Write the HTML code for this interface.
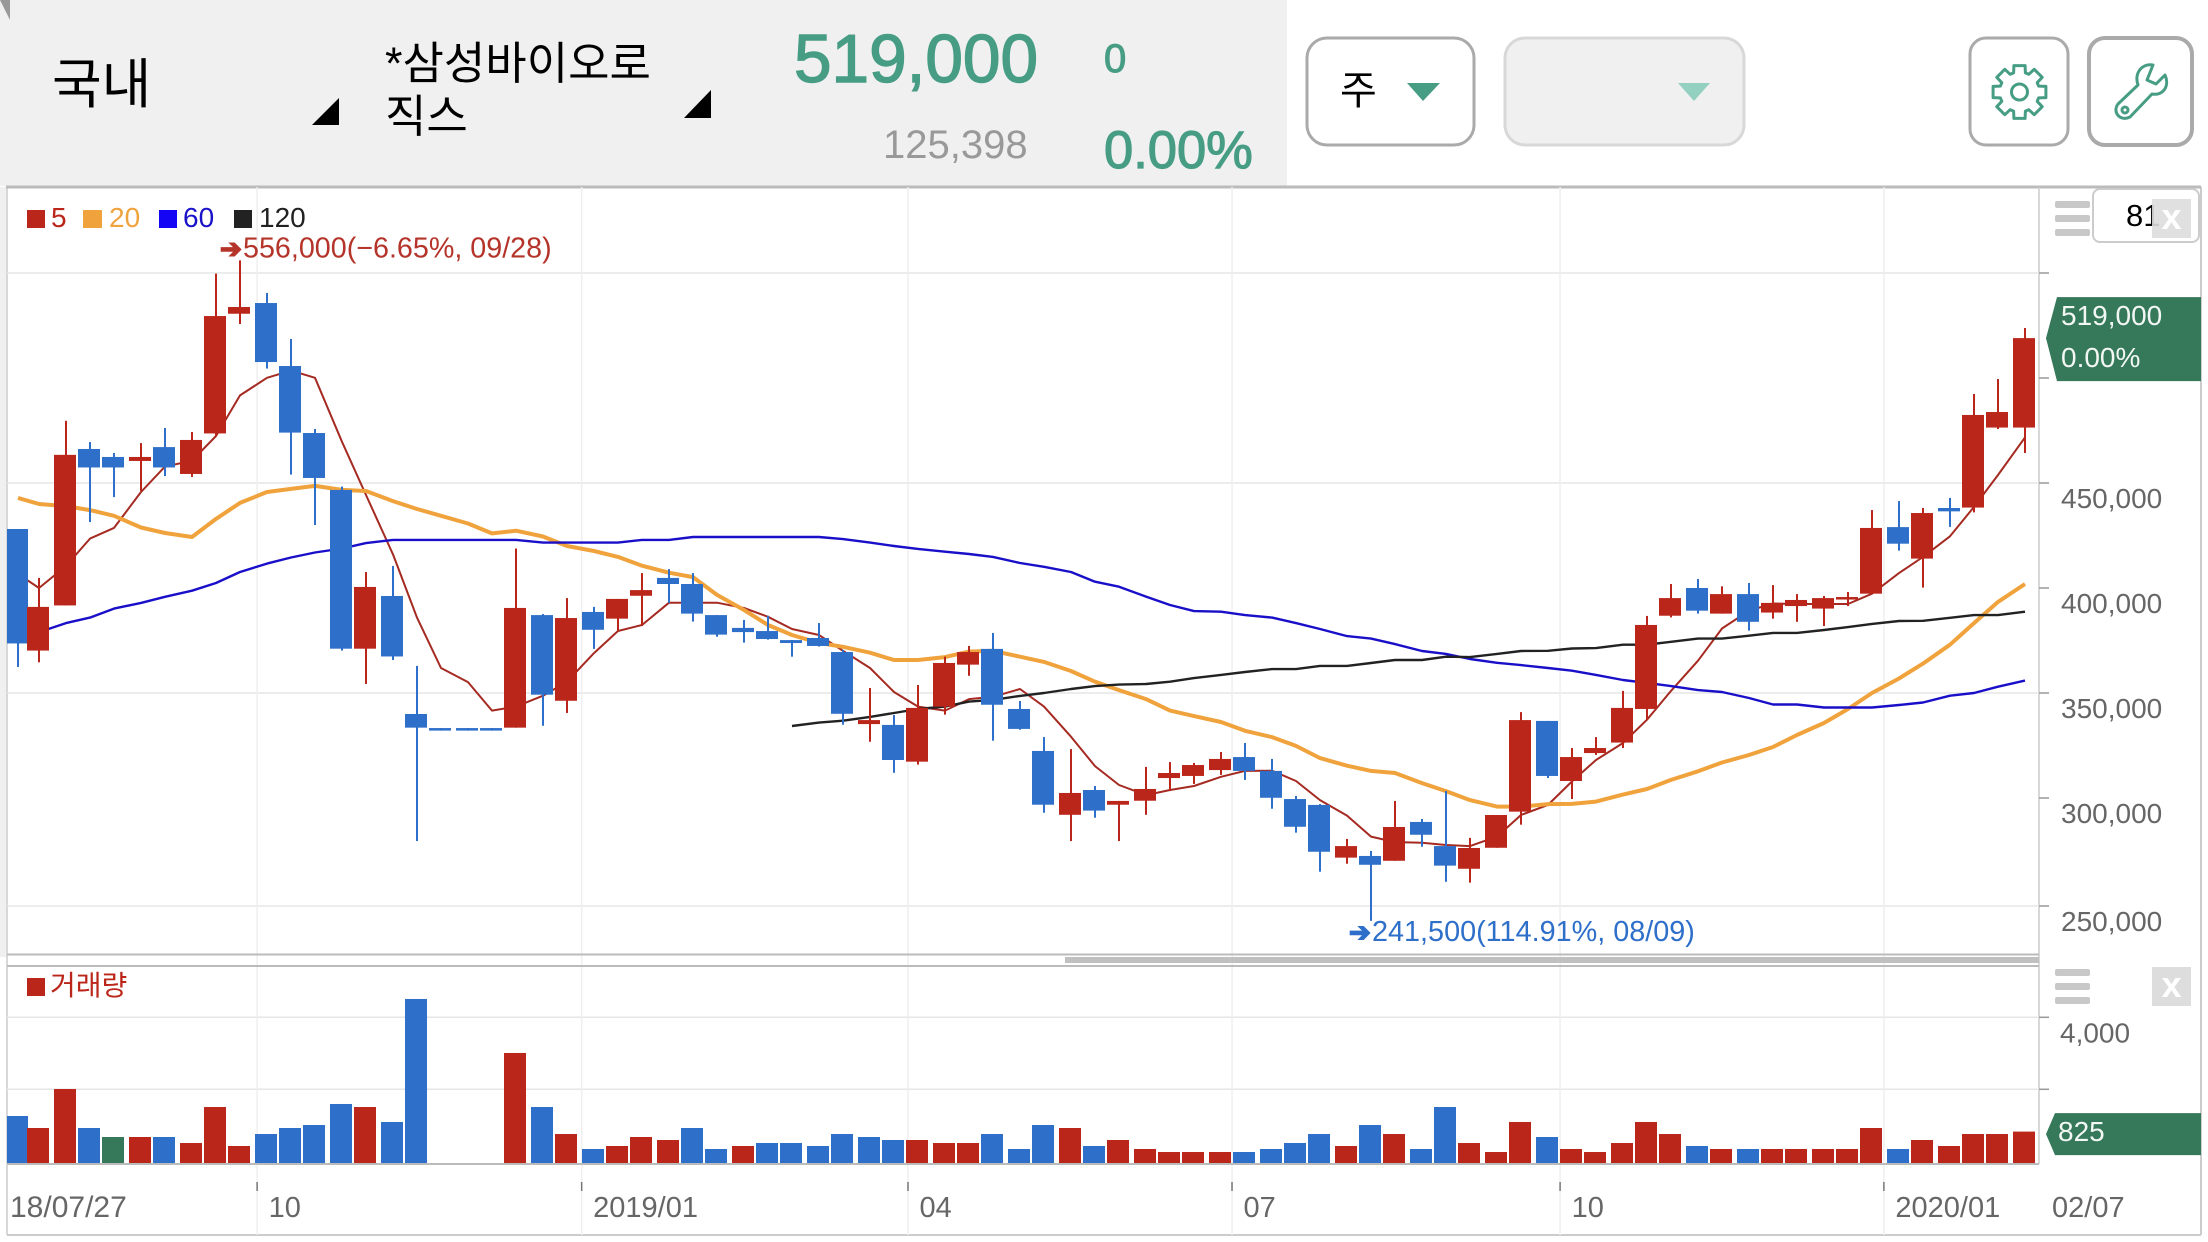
<!DOCTYPE html>
<html lang="ko">
<head>
<meta charset="utf-8">
<title>삼성바이오로직스 주봉 차트</title>
<style>
html,body{margin:0;padding:0;background:#fff;width:2208px;height:1242px;overflow:hidden}
svg{display:block;font-family:"Liberation Sans","Noto Sans CJK KR",sans-serif}
</style>
</head>
<body>
<svg id="stage" xmlns="http://www.w3.org/2000/svg" width="2208" height="1242" viewBox="0 0 2208 1242">
  <rect width="2208" height="1242" fill="#fff"/>
  <g>
    <rect x="0" y="0" width="1287" height="186" fill="#f0f0f0"/>
    <polygon points="0,0 10,0 10,20" fill="#999"/>
    <text x="52" y="103" font-size="54" fill="#000">국내</text>
    <polygon points="339,98 339,125 312,125" fill="#000"/>
    <text x="385" y="79" font-size="45" fill="#000">*삼성바이오로</text>
    <text x="385" y="132" font-size="45" fill="#000">직스</text>
    <polygon points="711,90 711,118 684,118" fill="#000"/>
    <text x="794" y="82" font-size="67.5" fill="#479d84" stroke="#479d84" stroke-width="1.4">519,000</text>
    <text x="883" y="158" font-size="40" fill="#999">125,398</text>
    <text x="1104" y="72" font-size="40" fill="#479d84" stroke="#479d84" stroke-width="1">0</text>
    <text x="1104" y="168" font-size="52.5" fill="#479d84" stroke="#479d84" stroke-width="1.2">0.00%</text>
  </g>
  <g>
    <g>
      <rect x="1307" y="38" width="167" height="107" rx="20" fill="#fff" stroke="#aaa" stroke-width="3"/>
      <text x="1340" y="104" font-size="40" fill="#000">주</text>
      <polygon points="1407,83 1440,83 1423,101" fill="#479d84"/>
    </g>
    <g>
      <rect x="1505" y="38" width="239" height="107" rx="20" fill="#f0f0f0" stroke="#d8d8d8" stroke-width="3"/>
      <polygon points="1678,83 1710,83 1694,101" fill="#93d0c0"/>
    </g>
    <g>
      <rect x="1970" y="38" width="98" height="107" rx="16" fill="#fff" stroke="#aaa" stroke-width="3"/>
      <path id="gear" fill="none" stroke="#479d84" stroke-width="3" stroke-linejoin="round" d=""/>
      <circle cx="2019.5" cy="92" r="8" fill="none" stroke="#479d84" stroke-width="3"/>
    </g>
    <g>
      <rect x="2089" y="38" width="103" height="107" rx="16" fill="#fff" stroke="#aaa" stroke-width="4"/>
      <path fill="none" stroke="#479d84" stroke-width="3" stroke-linejoin="round" d="M2153 65 C2142 63 2134 73 2138 85 L2118 104 C2112 112 2120 122 2130 117 L2152 94 C2163 96 2170 86 2165 75 L2156 84 L2147 80 Z"/>
      <circle cx="2125" cy="110" r="3" fill="none" stroke="#479d84" stroke-width="3"/>
    </g>
  </g>

  <g id="chartFrame">
    <rect x="0" y="187" width="6" height="770" fill="#f0f0f0"/>
    <line x1="7" y1="187" x2="7" y2="1235" stroke="#ccc" stroke-width="1.5"/>
    <line x1="2201" y1="187" x2="2201" y2="1235" stroke="#ccc" stroke-width="2"/>
    <line x1="6" y1="187" x2="2201" y2="187" stroke="#bbb" stroke-width="3"/>
    <line x1="7" y1="1235" x2="2201" y2="1235" stroke="#ccc" stroke-width="2"/>
    <line x1="2039" y1="187" x2="2039" y2="1164" stroke="#ccc" stroke-width="1.5"/>
  </g>
  <defs>
    <clipPath id="plotClip"><rect x="7" y="187" width="2032" height="980"/></clipPath>
  </defs>
  <g id="grid"></g>
  <g id="marks" clip-path="url(#plotClip)"></g>
  <g id="axes"></g>

  <g>
    <line x1="7" y1="954.5" x2="2039" y2="954.5" stroke="#bbb" stroke-width="2"/>
    <line x1="7" y1="966" x2="2039" y2="966" stroke="#bbb" stroke-width="2"/>
    <rect x="1065" y="957" width="974" height="6" fill="#c0c0c0"/>
    <line x1="7" y1="1164" x2="2039" y2="1164" stroke="#bbb" stroke-width="2"/>
  </g>

  <g font-size="28">
    <g><rect x="27" y="210" width="18" height="18" fill="#bb261a"/><text x="51" y="227" fill="#bb261a">5</text></g>
    <g><rect x="83" y="210" width="19" height="18" fill="#f0a33c"/><text x="109" y="227" fill="#f0a33c">20</text></g>
    <g><rect x="159" y="210" width="18" height="18" fill="#1505f5"/><text x="183" y="227" fill="#1a12c8">60</text></g>
    <g><rect x="234" y="210" width="18" height="18" fill="#222"/><text x="259" y="227" fill="#222">120</text></g>
  </g>
  <g>
    <rect x="27" y="978" width="18" height="18" fill="#bb261a"/>
    <text x="50" y="995" font-size="28" fill="#bb261a">거래량</text>
  </g>

  <g>
    <g fill="#c8c8c8">
      <rect x="2055" y="201" width="35" height="7" rx="2"/>
      <rect x="2055" y="215" width="35" height="7" rx="2"/>
      <rect x="2055" y="229" width="35" height="7" rx="2"/>
    </g>
    <rect x="2093" y="189" width="106" height="53" rx="7" fill="#fff" stroke="#ccc" stroke-width="2"/>
    <text x="2126" y="226" font-size="31" fill="#000">81</text>
    <rect x="2152" y="199" width="39" height="39" fill="#ddd" fill-opacity=".9"/>
    <text x="2171.5" y="229" font-size="36" font-weight="700" fill="#fff" text-anchor="middle">x</text>
  </g>
  <g>
    <g fill="#c8c8c8">
      <rect x="2055" y="969" width="35" height="7" rx="2"/>
      <rect x="2055" y="983" width="35" height="7" rx="2"/>
      <rect x="2055" y="997" width="35" height="7" rx="2"/>
    </g>
    <rect x="2152" y="967" width="39" height="39" fill="#ddd"/>
    <text x="2171.5" y="997" font-size="36" font-weight="700" fill="#fff" text-anchor="middle">x</text>
  </g>
</svg>

<script>
const opens=[428100,370200,391700,466200,462400,460500,467100,454300,473600,530600,535700,505700,473800,446700,371100,396200,340000,333300,333300,333300,333500,387100,346300,388600,385400,396300,404800,401900,387100,381000,379500,375200,376200,369500,335200,334800,317300,343500,363500,371000,342400,322400,292000,303800,296800,298700,309500,310500,313300,319500,312900,299500,296700,271600,272400,270100,288600,277100,266300,276300,293500,336700,308100,321400,326400,342400,386800,400000,387800,397100,388300,391400,390200,394500,397300,429000,414000,438100,438300,476400,476400];
const highs=[428100,404800,479600,469500,464300,469000,476200,474300,549700,556000,540500,518600,475700,448300,407600,410500,362900,333300,333300,333300,418800,387600,395200,391000,394800,407100,409000,407100,387100,384800,386800,375200,383300,370500,352400,339500,353800,367300,372400,378600,346200,329000,323300,305700,298600,314800,317100,316700,321900,326200,318600,301000,297100,280500,274800,298600,290000,303300,281000,291900,340900,336700,323800,329000,351000,386700,401900,404300,400800,402400,401400,397100,396200,398100,437100,441400,438100,442900,492400,499500,523800];
const lows=[362400,364600,391700,431400,443300,446200,453300,452900,472400,525700,504500,454000,430000,370200,354300,365700,279500,332100,332100,332100,333500,334400,340500,371000,379700,381900,392900,384000,376800,374000,375400,367300,372100,334900,326800,312000,315900,339700,358200,327300,332500,293000,279500,290600,279500,292000,303300,306700,311000,308600,294900,283500,264900,268700,241500,270100,276800,260100,259700,276300,287300,309500,299500,320500,323800,337300,386000,387800,387800,379700,385400,383900,381900,391400,397300,417800,400200,429100,436000,475700,464300];
const closes=[373600,391000,463400,457400,457400,462400,457400,470500,529500,533800,507600,474000,452400,371100,400500,367400,333500,332100,332100,332100,390500,349200,385700,380100,394800,399000,401900,387800,377800,379000,375700,373800,372400,340100,337100,318100,342900,364300,369500,344400,332900,296800,302400,294000,298600,304300,311900,315700,318600,312900,300100,286300,274400,277100,268200,286200,282500,267800,276200,291900,337100,310500,319500,323800,342900,382400,395200,389200,397100,383900,392900,394300,395200,395700,428600,421100,435700,436500,482400,483800,519000];
const ma5=[406700,400000,410500,423500,428600,445700,457800,460600,472400,491700,500100,503500,500100,469600,444300,416000,385900,361900,355200,341600,343500,348700,355400,369000,379500,382400,393000,393000,393000,390500,386300,380500,377600,370100,361900,350500,343500,341600,347100,348200,351900,343500,329200,315200,306200,301400,303800,305700,310100,312900,313000,308100,299000,291600,281600,279000,278700,277600,277100,281600,291900,296700,307900,318100,326200,337300,351000,365400,380700,389200,392600,392400,392400,392400,397300,407100,414800,424600,438600,453800,471700];
const ma20=[442900,440000,439000,437100,434400,428800,426200,424300,432900,440500,445700,447200,448600,446700,446200,441400,437600,434400,430700,426000,427300,424500,420000,417600,414800,410600,407300,405200,396700,389500,382400,377600,373800,372000,369200,365700,365700,367100,369700,370100,367300,364800,360500,355400,351400,347100,341600,339000,336200,332000,329000,324800,319000,315400,312900,311900,307100,303300,299000,295900,295900,297100,297200,298300,301600,304300,308600,312700,316900,320500,324300,330000,335700,342400,350000,356900,364000,373000,383300,393400,401900];
const ma60=[377100,379000,383300,385900,390200,392900,395800,398700,402400,407600,411600,414500,416900,418800,421400,422900,422900,422900,422900,422900,422900,421600,421600,421600,421600,422900,422900,424300,424300,424300,424300,424300,424300,423300,421600,420000,418600,417300,416200,414800,411900,410100,407600,403000,400600,395900,391900,389000,388700,387100,385900,383300,380500,377100,375900,373300,370000,368600,366200,364400,363300,361900,360600,358600,356200,354800,353300,351400,350500,347600,344500,344500,343100,343100,343100,344300,345500,348700,350000,353000,355900];
const ma120=[null,null,null,null,null,null,null,null,null,null,null,null,null,null,null,null,null,null,null,null,null,null,null,null,null,null,null,null,null,null,null,334300,335900,336800,338600,340500,342400,343500,345900,346700,348600,350000,351900,353300,354000,354300,355400,357100,358600,360000,361400,361400,362900,362900,364300,365700,365700,367300,367100,368600,370000,370100,371200,371400,373000,373000,374400,375900,375900,377300,378600,378600,380000,381400,382900,384300,384400,385800,387100,387100,388700];
const volumes=[1258,925,2008,925,675,675,675,508,1508,425,758,925,1008,1592,1508,1092,4509,0,0,0,3009,1508,758,342,425,675,592,925,342,425,508,508,425,758,675,592,592,508,508,758,342,1008,925,425,592,342,258,258,258,258,342,508,758,425,1008,758,342,1508,508,258,1092,675,342,258,508,1092,758,425,342,342,342,342,342,342,925,342,592,425,758,758,825];
const volumeDirections=[-1,1,1,-1,0,1,-1,1,1,1,-1,-1,-1,-1,1,-1,-1,0,0,0,1,-1,1,-1,1,1,1,-1,-1,1,-1,-1,-1,-1,-1,-1,1,1,1,-1,-1,-1,1,-1,1,1,1,1,1,-1,-1,-1,-1,1,-1,1,-1,-1,1,1,1,-1,1,1,1,1,1,-1,1,-1,1,1,1,1,1,-1,1,1,1,1,1];
const priceTicks=[550000,500000,450000,400000,350000,300000,250000];
const priceGridTicks=[550000,450000,350000,250000];
const priceLabels=[450000,400000,350000,300000,250000];
const volumeTicks=[4000,2000];
const volumeLabels=[4000];
const monthIndexes=[10.12,23.04,36.03,48.93,61.99,74.88];
const monthLabels=["10","2019/01","04","07","10","2020/01"];
const firstDateLabel="18/07/27";
const lastDateLabel="02/07";
const extremeDates=["09/28","08/09"];
const changePercentLabel="0.00%";

const NS="http://www.w3.org/2000/svg";
const gridLayer=document.getElementById("grid");
const marksLayer=document.getElementById("marks");
const axesLayer=document.getElementById("axes");
const RED="#bb261a",BLUE="#2e6fc9",GREEN="#35785a";

function priceY(p){return 483+(450000-p)*0.0021;}
function gridY(p){return priceY(p)+(p<=250000?3:0);}
function volumeY(v){return 1161.3-v*0.036;}
function barLeft(i){return Math.max(6,3*Math.floor(1.515+8.37*i));}
function barCenter(i){return barLeft(i)+11;}
function monthX(m){return 2.9+25.12*m;}
function fmt(n){return String(n).replace(/\B(?=(\d{3})+$)/g,",");}
function mk(tag,attrs,parent){
  const el=document.createElementNS(NS,tag);
  for(const k in attrs){el.setAttribute(k,attrs[k]);}
  parent.appendChild(el);
  return el;
}

/* gear icon outline */
(function(){
  const cx=2019.5,cy=92,ro=27,ri=20,n=8;let d="";
  for(let t=0;t<n;t++){
    const a=t*2*Math.PI/n-Math.PI/2,w=0.21,g=0.3;
    const pts=[[ri,a-g],[ro,a-w],[ro,a+w],[ri,a+g]];
    pts.forEach(function(p,j){
      d+=(t===0&&j===0?"M":"L")+(cx+p[0]*Math.cos(p[1])).toFixed(1)+" "+(cy+p[0]*Math.sin(p[1])).toFixed(1)+" ";
    });
  }
  document.getElementById("gear").setAttribute("d",d+"Z");
})();

/* grid lines */
priceGridTicks.forEach(function(t){
  const el=mk("line",{x1:7,x2:2039,y1:gridY(t),y2:gridY(t),stroke:"#e6e6e6","stroke-width":1.5},gridLayer);
  
  
});
volumeTicks.forEach(function(t){
  const el=mk("line",{x1:7,x2:2039,y1:volumeY(t),y2:volumeY(t),stroke:"#e6e6e6","stroke-width":1.5},gridLayer);
  
  
});
monthIndexes.forEach(function(m){
  const x=monthX(m);
  const el=mk("line",{x1:x,x2:x,y1:187,y2:1235,stroke:"#efefef","stroke-width":1.5},gridLayer);
  
  
});

/* moving averages, drawn beneath the candles */
function drawLine(values,color,width,name){
  let d="";
  values.forEach(function(v,i){
    if(v===null){return;}
    d+=(d?"L":"M")+(barCenter(i)+1)+" "+priceY(v).toFixed(1)+" ";
  });
  const el=mk("path",{d:d,fill:"none",stroke:color,"stroke-width":width,"stroke-linejoin":"round"},marksLayer);
  
  
}
drawLine(ma5,"#a52a22",2,"ma5-line");
drawLine(ma20,"#f0a33c",4,"ma20-line");
drawLine(ma60,"#1a0fc8",2.4,"ma60-line");
drawLine(ma120,"#222222",2.4,"ma120-line");

/* candles */
opens.forEach(function(o,i){
  const c=closes[i];
  const color=c>=o?RED:BLUE;
  const top=priceY(Math.max(o,c));
  const bottom=priceY(Math.min(o,c));
  const wick=mk("rect",{x:barCenter(i),y:priceY(highs[i]),width:2,height:priceY(lows[i])-priceY(highs[i]),fill:color},marksLayer);
  
  
  const body=mk("rect",{x:barLeft(i),y:top,width:22,height:Math.max(bottom-top,2),fill:color},marksLayer);
  
  
});

/* volume bars */
volumes.forEach(function(v,i){
  if(v<=0){return;}
  const dir=volumeDirections[i];
  const y=volumeY(v);
  const bar=mk("rect",{x:barLeft(i),y:y,width:22,height:1164-y,fill:dir>0?RED:(dir<0?BLUE:GREEN)},marksLayer);
  
  
});

/* price axis */
priceTicks.forEach(function(t){
  const el=mk("line",{x1:2039,x2:2049,y1:gridY(t),y2:gridY(t),stroke:"#999","stroke-width":1.5},axesLayer);
  
  
});
priceLabels.forEach(function(t){
  const el=mk("text",{x:2061,y:gridY(t)+25,"font-size":28,fill:"#666"},axesLayer);
  el.textContent=fmt(t);
  
  
});

/* volume axis */
volumeTicks.forEach(function(t){
  const el=mk("line",{x1:2039,x2:2049,y1:volumeY(t),y2:volumeY(t),stroke:"#999","stroke-width":1.5},axesLayer);
  
  
});
volumeLabels.forEach(function(t){
  const el=mk("text",{x:2060,y:volumeY(t)+25,"font-size":28,fill:"#666"},axesLayer);
  el.textContent=fmt(t);
  
  
});

/* time axis */
monthIndexes.forEach(function(m,k){
  const x=monthX(m);
  const tick=mk("line",{x1:x,x2:x,y1:1182,y2:1191,stroke:"#777","stroke-width":1.5},axesLayer);
  
  
  const label=mk("text",{x:x+11.5,y:1217,"font-size":29,fill:"#666"},axesLayer);
  label.textContent=monthLabels[k];
  
  
});
const firstDate=mk("text",{x:10,y:1217,"font-size":30,fill:"#666"},axesLayer);
firstDate.textContent=firstDateLabel;


const lastDate=mk("text",{x:2052,y:1217,"font-size":29,fill:"#666"},axesLayer);
lastDate.textContent=lastDateLabel;



/* high / low annotations */
const lastClose=closes[closes.length-1];
const maxHigh=Math.max.apply(null,highs);
const minLow=Math.min.apply(null,lows);
const maxIndex=highs.indexOf(maxHigh);
const minIndex=lows.indexOf(minLow);
function pct(base){
  const v=(lastClose-base)/base*100;
  return (v<0?"\u2212":"")+Math.abs(v).toFixed(2)+"%";
}
const hiArrow=mk("text",{x:barCenter(maxIndex)-19,y:priceY(maxHigh)-3,"font-size":26,fill:"#b5342a",stroke:"#b5342a","stroke-width":1.6,"font-family":"DejaVu Sans, sans-serif"},axesLayer);
hiArrow.textContent="\u2794";


const hiText=mk("text",{x:barCenter(maxIndex)+4,y:priceY(maxHigh)-3,"font-size":28.7,fill:"#b5342a"},axesLayer);
hiText.textContent=fmt(maxHigh)+"("+pct(maxHigh)+", "+extremeDates[0]+")";


const loArrow=mk("text",{x:barCenter(minIndex)-21,y:priceY(minLow)+20,"font-size":26,fill:"#2e6fc9",stroke:"#2e6fc9","stroke-width":1.6,"font-family":"DejaVu Sans, sans-serif"},axesLayer);
loArrow.textContent="\u2794";


const loText=mk("text",{x:barCenter(minIndex)+2,y:priceY(minLow)+20,"font-size":28.8,fill:"#2e6fc9"},axesLayer);
loText.textContent=fmt(minLow)+"("+pct(minLow)+", "+extremeDates[1]+")";



/* current value tags */
const tagY=priceY(lastClose);
const priceTag=mk("polygon",{points:"2046,"+tagY+" 2057,"+(tagY-41)+" 2201,"+(tagY-41)+" 2201,"+(tagY+43)+" 2057,"+(tagY+43),fill:GREEN},axesLayer);


const priceTagValue=mk("text",{x:2061,y:tagY-13,"font-size":28,fill:"#f2f7f4"},axesLayer);
priceTagValue.textContent=fmt(lastClose);


const priceTagPct=mk("text",{x:2061,y:tagY+29,"font-size":28,fill:"#f2f7f4"},axesLayer);
priceTagPct.textContent=changePercentLabel;



const lastVolume=volumes[volumes.length-1];
const volTagY=volumeY(lastVolume)+2.5;
const volumeTag=mk("polygon",{points:"2046,"+volTagY+" 2055,"+(volTagY-21)+" 2201,"+(volTagY-21)+" 2201,"+(volTagY+21)+" 2055,"+(volTagY+21),fill:GREEN},axesLayer);


const volumeTagValue=mk("text",{x:2058,y:volTagY+7,"font-size":28,fill:"#f2f7f4"},axesLayer);
volumeTagValue.textContent=fmt(lastVolume);


</script>
</body>
</html>
